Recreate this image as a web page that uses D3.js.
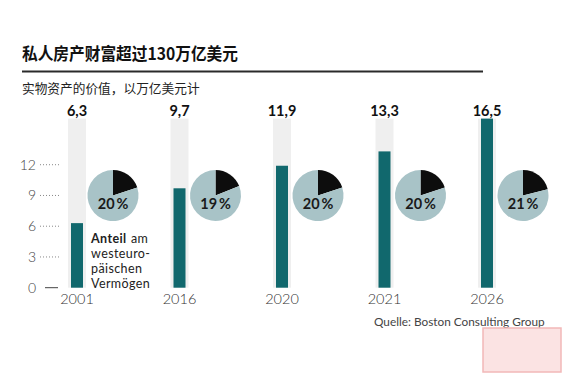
<!DOCTYPE html>
<html><head><meta charset="utf-8">
<script src="https://cdn.jsdelivr.net/npm/d3@7"></script>
<style>
html,body{margin:0;padding:0;background:#fff;}
svg{display:block;}
</style></head>
<body>
<script>
const years = ["2001","2016","2020","2021","2026"];
const values = [6.3, 9.7, 11.9, 13.3, 16.5];
const valueLabels = ["6,3","9,7","11,9","13,3","16,5"];
const shares = [20, 19, 20, 20, 21];
const yTicks = [0, 3, 6, 9, 12];
const title = "私人房产财富超过130万亿美元";
const subtitle = "实物资产的价值，以万亿美元计";
const source = "Quelle: Boston Consulting Group";
const noteLines = ["westeuro-", "päischen", "Vermögen"];

const W = 567, H = 378;
const LAT = "Lato, 'Noto Sans', sans-serif";
const CJK = "'Noto Sans CJK SC', 'Noto Sans', sans-serif";
const svg = d3.select("body").append("svg").attr("width", W).attr("height", H)
  .attr("font-family", LAT);

const x = d3.scaleBand().domain(years).range([25.75, 538.25]);
const y = d3.scaleLinear().domain([0, 16.5]).range([287.7, 118.6]);
const bw = 12, bgw = 18;
const teal = "#11686d", bg = "#efefef", pieLight = "#a8c3c7";

// title
svg.append("text").attr("x", 22).attr("y", 60).attr("font-size", 17).attr("font-weight", 700)
  .attr("font-family", CJK).attr("textLength", 216).attr("lengthAdjust", "spacingAndGlyphs")
  .attr("fill", "#111").text(title);
svg.append("line").attr("x1", 22).attr("x2", 483).attr("y1", 71.5).attr("y2", 71.5)
  .attr("stroke", "#2a2a2a").attr("stroke-width", 2);
svg.append("text").attr("x", 22).attr("y", 93).attr("font-size", 12.7).attr("font-family", CJK)
  .attr("fill", "#222").text(subtitle);

// y axis ticks
const ax = svg.append("g");
yTicks.forEach(t => {
  ax.append("text").attr("x", 36).attr("y", y(t)).attr("dy", "0.35em").attr("text-anchor", "end")
    .attr("font-size", 14).attr("font-weight", 300).attr("fill", "#444").text(t);
  if (t === 0) {
    ax.append("line").attr("x1", 45).attr("x2", 58).attr("y1", y(t)).attr("y2", y(t))
      .attr("stroke", "#444").attr("stroke-width", 1);
  } else {
    ax.append("line").attr("x1", 40).attr("x2", 59).attr("y1", y(t)).attr("y2", y(t))
      .attr("stroke", "#888").attr("stroke-width", 1).attr("stroke-dasharray", "1,2");
  }
});

const cx = d => x(d) + x.bandwidth() / 2;
const maxV = d3.max(values);

// background bars
svg.selectAll("rect.bg").data(years).join("rect").attr("class", "bg")
  .attr("x", d => cx(d) - bgw / 2).attr("width", bgw)
  .attr("y", y(maxV)).attr("height", y(0) - y(maxV)).attr("fill", bg);

// value bars
svg.selectAll("rect.val").data(years).join("rect").attr("class", "val")
  .attr("x", d => cx(d) - bw / 2).attr("width", bw)
  .attr("y", (d, i) => y(values[i])).attr("height", (d, i) => y(0) - y(values[i])).attr("fill", teal);

// value labels
svg.selectAll("text.vl").data(years).join("text").attr("class", "vl")
  .attr("x", d => cx(d)).attr("y", 116).attr("text-anchor", "middle")
  .attr("font-size", 14.5).attr("font-weight", 700)
  .attr("fill", "#111").text((d, i) => valueLabels[i]);

// year labels
svg.selectAll("text.yr").data(years).join("text").attr("class", "yr")
  .attr("x", d => cx(d)).attr("y", 304).attr("text-anchor", "middle")
  .attr("font-size", 14.5).attr("font-weight", 300)
  .attr("fill", "#333").text(d => d);

// pies
const r = 25.5;
const arc = d3.arc().innerRadius(0).outerRadius(r);
const pie = d3.pie().sort(null).value(d => d);
years.forEach((yr, i) => {
  const g = svg.append("g").attr("transform", `translate(${cx(yr) + 36},195.5)`);
  const arcs = pie([shares[i], 100 - shares[i]]);
  g.selectAll("path").data(arcs).join("path").attr("d", arc)
    .attr("fill", (d, j) => j === 0 ? "#0d0d0d" : pieLight);
  g.append("text").attr("x", 0).attr("y", 13).attr("text-anchor", "middle")
    .attr("font-size", 14.5).attr("font-weight", 700)
    .attr("fill", "#1a1a1a").text(shares[i] + "\u2009%");
});

// note
const nfs = 12.5, nls = 15;
svg.append("text").attr("x", 91).attr("y", 243).attr("font-size", nfs).attr("font-weight", 700)
  .attr("letter-spacing", 0.4).attr("fill", "#222").text("Anteil");
svg.append("text").attr("x", 131).attr("y", 243).attr("font-size", nfs).attr("font-weight", 400)
  .attr("letter-spacing", 0.4).attr("fill", "#222").text("am");
noteLines.forEach((ln, i) => {
  svg.append("text").attr("x", 91).attr("y", 243 + (i + 1) * nls).attr("font-size", nfs).attr("font-weight", 400)
    .attr("letter-spacing", 0.4).attr("fill", "#222").text(ln);
});

// source
svg.append("text").attr("x", 374).attr("y", 326).attr("font-size", 11.8).attr("font-weight", 400)
  .attr("fill", "#444").text(source);

// watermark stamp (decorative)
svg.append("rect").attr("x", 483).attr("y", 328).attr("width", 78).attr("height", 44)
  .attr("fill", "#fbe3e3").attr("stroke", "#f2b8b8").attr("stroke-width", 1.5);
</script>
</body></html>
